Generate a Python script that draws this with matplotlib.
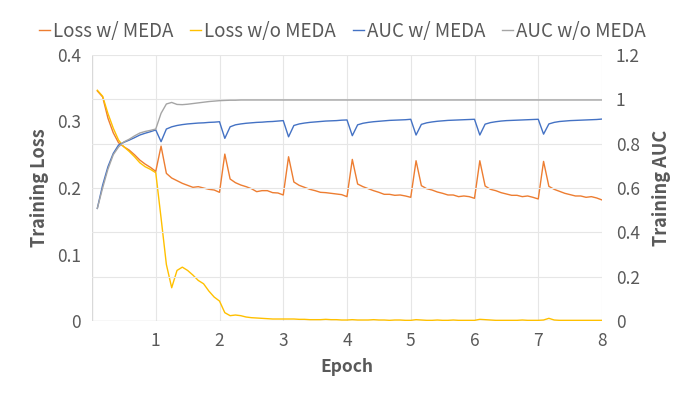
import matplotlib
matplotlib.use("Agg")
import matplotlib.pyplot as plt
import numpy as np

plt.rcParams['font.family'] = ['Noto Sans CJK SC', 'DejaVu Sans']

steps_per_epoch = 12
epochs = np.arange(1, 97) / steps_per_epoch

loss_w_meda = [
    0.346, 0.337, 0.305, 0.283, 0.268, 0.262, 0.257, 0.250, 0.242, 0.236, 0.231, 0.225,
    0.263, 0.222, 0.215, 0.211, 0.207, 0.204, 0.201, 0.202, 0.200, 0.198, 0.197, 0.1935,
    0.251, 0.2135, 0.208, 0.2045, 0.202, 0.199, 0.1945, 0.196, 0.196, 0.193, 0.1925, 0.1895,
    0.247, 0.209, 0.204, 0.201, 0.198, 0.196, 0.1935, 0.193, 0.192, 0.191, 0.190, 0.187,
    0.243, 0.206, 0.202, 0.199, 0.196, 0.1935, 0.1905, 0.1905, 0.189, 0.1895, 0.188, 0.186,
    0.241, 0.2035, 0.199, 0.197, 0.194, 0.192, 0.1895, 0.1895, 0.187, 0.188, 0.187, 0.1845,
    0.241, 0.203, 0.198, 0.196, 0.193, 0.191, 0.189, 0.189, 0.187, 0.188, 0.186, 0.1835,
    0.240, 0.2025, 0.198, 0.195, 0.192, 0.190, 0.188, 0.188, 0.186, 0.187, 0.185, 0.182,
]

loss_wo_meda = [
    0.347, 0.338, 0.312, 0.290, 0.272, 0.262, 0.255, 0.247, 0.238, 0.232, 0.228, 0.223,
    0.155, 0.085, 0.050, 0.076, 0.081, 0.076, 0.069, 0.061, 0.056, 0.045, 0.036, 0.030,
    0.0125, 0.008, 0.009, 0.008, 0.006, 0.005, 0.0045, 0.004, 0.0035, 0.003, 0.003, 0.003,
    0.003, 0.003, 0.0025, 0.0025, 0.002, 0.002, 0.002, 0.0025, 0.002, 0.002, 0.0015, 0.0015,
    0.002, 0.0015, 0.0015, 0.0015, 0.002, 0.0015, 0.0015, 0.001, 0.0015, 0.0015, 0.001, 0.001,
    0.002, 0.0015, 0.001, 0.001, 0.0015, 0.001, 0.001, 0.0015, 0.001, 0.001, 0.001, 0.001,
    0.0025, 0.002, 0.0015, 0.001, 0.001, 0.001, 0.001, 0.001, 0.0015, 0.001, 0.001, 0.001,
    0.0015, 0.004, 0.0015, 0.001, 0.001, 0.001, 0.001, 0.001, 0.001, 0.001, 0.001, 0.001,
]

auc_w_meda = [
    0.508, 0.613, 0.696, 0.756, 0.794, 0.806, 0.816, 0.827, 0.839, 0.847, 0.854, 0.862,
    0.809, 0.866, 0.876, 0.882, 0.886, 0.889, 0.891, 0.893, 0.894, 0.896, 0.897, 0.899,
    0.824, 0.876, 0.885, 0.889, 0.892, 0.894, 0.896, 0.897, 0.899, 0.900, 0.902, 0.904,
    0.831, 0.882, 0.889, 0.893, 0.896, 0.898, 0.900, 0.902, 0.903, 0.904, 0.906, 0.907,
    0.836, 0.885, 0.892, 0.896, 0.899, 0.901, 0.903, 0.905, 0.906, 0.907, 0.908, 0.910,
    0.839, 0.887, 0.894, 0.898, 0.901, 0.903, 0.905, 0.906, 0.907, 0.908, 0.909, 0.910,
    0.839, 0.888, 0.895, 0.899, 0.902, 0.904, 0.905, 0.906, 0.907, 0.908, 0.909, 0.910,
    0.843, 0.889, 0.896, 0.900, 0.902, 0.904, 0.905, 0.906, 0.907, 0.908, 0.909, 0.911,
]

auc_wo_meda = [
    0.508, 0.600, 0.685, 0.750, 0.785, 0.808, 0.820, 0.835, 0.848, 0.855, 0.860, 0.866,
    0.937, 0.979, 0.986, 0.977, 0.976, 0.978, 0.981, 0.984, 0.987, 0.990, 0.992, 0.994,
    0.995, 0.996, 0.996, 0.997, 0.997, 0.997, 0.997, 0.997, 0.997, 0.997, 0.997, 0.997,
] + [0.997] * 60

x_ticks = [1, 2, 3, 4, 5, 6, 7, 8]
left_ticks = [0, 0.1, 0.2, 0.3, 0.4]
left_labels = ['0', '0.1', '0.2', '0.3', '0.4']
right_ticks = [0, 0.2, 0.4, 0.6, 0.8, 1.0, 1.2]
right_labels = ['0', '0.2', '0.4', '0.6', '0.8', '1', '1.2']

c_orange = '#ED7D31'
c_yellow = '#FFC000'
c_blue = '#4472C4'
c_gray = '#A5A5A5'
txt = '#595959'
grid_c = '#E6E6E6'

fig = plt.figure(figsize=(6.96, 4.04), dpi=100)
ax = fig.add_axes([92/696, 1-321/404, (602-92)/696, (321-55)/404])
ax2 = ax.twinx()

ax.set_xlim(0, 8)
ax.set_ylim(0, 0.4)
ax2.set_ylim(0, 1.2)

for v in right_ticks[1:]:
    ax2.axhline(v, color=grid_c, lw=0.8, zorder=0)
for v in x_ticks:
    ax.axvline(v, color=grid_c, lw=0.8, zorder=0)

lw = 1.0
l1, = ax.plot(epochs, loss_w_meda, color=c_orange, lw=lw, label='Loss w/ MEDA', zorder=3)
l2, = ax.plot(epochs, loss_wo_meda, color=c_yellow, lw=lw, label='Loss w/o MEDA', zorder=3)
l3, = ax2.plot(epochs, auc_w_meda, color=c_blue, lw=lw, label='AUC w/ MEDA', zorder=3)
l4, = ax2.plot(epochs, auc_wo_meda, color=c_gray, lw=lw, label='AUC w/o MEDA', zorder=3)

for a in (ax, ax2):
    for s in ('top', 'right', 'left', 'bottom'):
        a.spines[s].set_visible(False)
ax.axvline(0, color='#D9D9D9', lw=1.0, zorder=1)
ax.axhline(0, color='#D9D9D9', lw=1.0, zorder=1)

ax.set_xticks(x_ticks)
ax.set_xticklabels([str(t) for t in x_ticks])
ax.set_yticks(left_ticks)
ax.set_yticklabels(left_labels)
ax2.set_yticks(right_ticks)
ax2.set_yticklabels(right_labels)

fs = 12.5
ax.tick_params(axis='both', length=0, labelsize=fs, labelcolor=txt, pad=8)
ax2.tick_params(axis='y', length=0, labelsize=fs, labelcolor=txt, pad=10)
for lab in ax.get_xticklabels() + ax.get_yticklabels() + ax2.get_yticklabels():
    lab.set_fontweight('light')

ax.set_xlabel('Epoch', fontsize=12.5, fontweight='bold', color=txt, labelpad=6)
ax.set_ylabel('Training Loss', fontsize=13, fontweight='bold', color=txt, labelpad=6)
ax2.set_ylabel('Training AUC', fontsize=13, fontweight='bold', color=txt, labelpad=9)

leg = fig.legend(handles=[l1, l2, l3, l4], loc='center', bbox_to_anchor=(0.492, 1-31/404),
                 ncol=4, frameon=False, fontsize=13.5, handlelength=0.6, handletextpad=0.15,
                 columnspacing=0.9, labelcolor=txt, prop={'weight': 'light', 'size': 13.5})

fig.savefig('out.png', dpi=100)
